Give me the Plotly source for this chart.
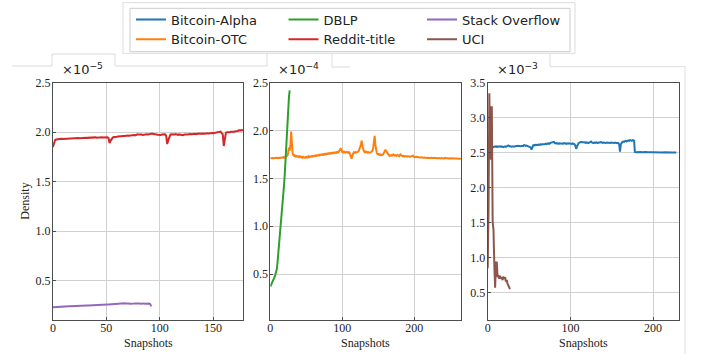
import plotly.graph_objects as go

W, H = 702, 354

# ---------------- data (density values, in units shown on each panel) ----------------
# Panel 1 (x 1e-5)
reddit_title = [
    1.85, 1.90, 1.92, 1.925, 1.928, 1.93, 1.927, 1.93, 1.932, 1.93,
    1.931, 1.933, 1.93, 1.935, 1.934, 1.936, 1.933, 1.937, 1.935, 1.938,
    1.936, 1.94, 1.938, 1.939, 1.941, 1.938, 1.94, 1.942, 1.94, 1.943,
    1.941, 1.944, 1.942, 1.943, 1.945, 1.942, 1.944, 1.946, 1.943, 1.945,
    1.947, 1.944, 1.946, 1.948, 1.945, 1.947, 1.949, 1.946, 1.948, 1.95,
    1.947, 1.949, 1.94, 1.89, 1.915, 1.935, 1.945, 1.952, 1.95, 1.955,
    1.953, 1.956, 1.958, 1.955, 1.96, 1.958, 1.962, 1.96, 1.963, 1.961,
    1.965, 1.963, 1.966, 1.968, 1.965, 1.97, 1.972, 1.968, 1.974, 1.978,
    1.975, 1.977, 1.973, 1.976, 1.971, 1.974, 1.972, 1.975, 1.978, 1.976,
    1.98, 1.978, 1.982, 1.985, 1.98, 1.976, 1.972, 1.975, 1.973, 1.97,
    1.974, 1.972, 1.975, 1.977, 1.973, 1.978, 1.965, 1.88, 1.92, 1.96,
    1.975, 1.978, 1.976, 1.974, 1.977, 1.98, 1.975, 1.972, 1.977, 1.974,
    1.97, 1.972, 1.968, 1.975, 1.973, 1.977, 1.975, 1.979, 1.976, 1.98,
    1.978, 1.982, 1.979, 1.983, 1.98, 1.984, 1.982, 1.985, 1.983, 1.986,
    1.984, 1.987, 1.985, 1.988, 1.986, 1.989, 1.987, 1.99, 1.988, 1.991,
    1.989, 1.992, 1.99, 1.993, 1.995, 1.998, 2.0, 2.005, 1.99, 1.98,
    1.86, 1.93, 1.995, 2.0, 1.998, 2.002, 2.0, 2.005, 2.003, 2.008,
    2.005, 2.01, 2.008, 2.012, 2.02, 2.015, 2.018, 2.022, 2.02,
]
stack_overflow = [
    0.230, 0.231, 0.231, 0.232, 0.232, 0.233, 0.233, 0.234, 0.234, 0.235,
    0.235, 0.236, 0.236, 0.237, 0.237, 0.238, 0.238, 0.239, 0.239, 0.240,
    0.240, 0.241, 0.241, 0.242, 0.242, 0.243, 0.243, 0.244, 0.245, 0.245,
    0.246, 0.246, 0.247, 0.247, 0.248, 0.249, 0.249, 0.250, 0.250, 0.251,
    0.252, 0.252, 0.253, 0.253, 0.254, 0.254, 0.255, 0.256, 0.256, 0.257,
    0.257, 0.258, 0.258, 0.259, 0.259, 0.260, 0.261, 0.262, 0.262, 0.263,
    0.264, 0.263, 0.265, 0.266, 0.265, 0.267, 0.268, 0.269, 0.266, 0.268,
    0.267, 0.266, 0.265, 0.267, 0.266, 0.264, 0.266, 0.267, 0.265, 0.266,
    0.264, 0.266, 0.265, 0.267, 0.266, 0.268, 0.265, 0.267, 0.266, 0.268,
    0.266, 0.262, 0.238,
]

# Panel 2 (x 1e-4)
bitcoin_otc = [
    1.71, 1.712, 1.708, 1.711, 1.714, 1.71, 1.713, 1.709, 1.712, 1.715,
    1.711, 1.714, 1.71, 1.716, 1.713, 1.718, 1.715, 1.72, 1.716, 1.722,
    1.718, 1.724, 1.72, 1.728, 1.74, 1.78, 1.82, 1.79, 1.85, 1.99,
    1.84, 1.76, 1.745, 1.735, 1.74, 1.73, 1.735, 1.728, 1.732, 1.725,
    1.73, 1.722, 1.728, 1.72, 1.726, 1.718, 1.724, 1.72, 1.715, 1.722,
    1.718, 1.725, 1.72, 1.73, 1.722, 1.728, 1.725, 1.732, 1.728, 1.735,
    1.73, 1.736, 1.733, 1.74, 1.735, 1.742, 1.738, 1.745, 1.74, 1.748,
    1.744, 1.75, 1.746, 1.752, 1.748, 1.755, 1.75, 1.757, 1.752, 1.76,
    1.756, 1.762, 1.758, 1.765, 1.76, 1.766, 1.762, 1.768, 1.764, 1.77,
    1.766, 1.772, 1.768, 1.775, 1.77, 1.778, 1.785, 1.80, 1.815, 1.79,
    1.775, 1.78, 1.772, 1.778, 1.774, 1.77, 1.776, 1.772, 1.768, 1.774,
    1.77, 1.75, 1.72, 1.705, 1.74, 1.765, 1.772, 1.768, 1.775, 1.77,
    1.772, 1.776, 1.78, 1.79, 1.805, 1.83, 1.86, 1.895, 1.84, 1.80,
    1.785, 1.775, 1.78, 1.772, 1.778, 1.77, 1.775, 1.768, 1.774, 1.77,
    1.775, 1.78, 1.79, 1.82, 1.88, 1.945, 1.85, 1.79, 1.765, 1.755,
    1.75, 1.755, 1.745, 1.75, 1.742, 1.748, 1.745, 1.752, 1.765, 1.78,
    1.80, 1.785, 1.77, 1.755, 1.745, 1.74, 1.735, 1.742, 1.738, 1.745,
    1.74, 1.75, 1.745, 1.738, 1.742, 1.735, 1.74, 1.745, 1.738, 1.732,
    1.745, 1.75, 1.74, 1.735, 1.73, 1.735, 1.728, 1.733, 1.73, 1.735,
    1.728, 1.732, 1.726, 1.73, 1.725, 1.73, 1.735, 1.742, 1.738, 1.728,
    1.725, 1.728, 1.722, 1.726, 1.72, 1.724, 1.72, 1.718, 1.722, 1.718,
    1.72, 1.716, 1.719, 1.715, 1.718, 1.714, 1.717, 1.713, 1.716, 1.714,
    1.715, 1.712, 1.716, 1.713, 1.715, 1.711, 1.714, 1.712, 1.715, 1.711,
    1.713, 1.71, 1.714, 1.711, 1.713, 1.71, 1.712, 1.709, 1.713, 1.71,
    1.712, 1.709, 1.711, 1.715, 1.71, 1.712, 1.709, 1.711, 1.708, 1.71,
    1.709, 1.711, 1.708, 1.71, 1.707, 1.709, 1.706, 1.708, 1.707, 1.709,
    1.706, 1.708, 1.705, 1.707, 1.706, 1.705,
]
dblp = [
    0.37, 0.385, 0.40, 0.415, 0.43, 0.45, 0.47, 0.495, 0.52, 0.55,
    0.62, 0.70, 0.78, 0.86, 0.95, 1.03, 1.12, 1.20, 1.30, 1.42,
    1.53, 1.68, 1.85, 2.02, 2.14, 2.26, 2.36, 2.42,
]

# Panel 3 (x 1e-3)
bitcoin_alpha = [
    2.55, 2.575, 2.585, 2.58, 2.59, 2.583, 2.588, 2.58, 2.586, 2.59,
    2.584, 2.589, 2.582, 2.587, 2.592, 2.585, 2.59, 2.583, 2.588, 2.58,
    2.586, 2.591, 2.584, 2.589, 2.595, 2.605, 2.595, 2.588, 2.592, 2.585,
    2.59, 2.586, 2.592, 2.588, 2.595, 2.59, 2.596, 2.6, 2.594, 2.598,
    2.592, 2.597, 2.6, 2.595, 2.61, 2.6, 2.596, 2.602, 2.598, 2.595,
    2.59, 2.585, 2.575, 2.545, 2.59, 2.605, 2.61, 2.605, 2.612, 2.608,
    2.615, 2.61, 2.618, 2.612, 2.62, 2.615, 2.622, 2.618, 2.625, 2.62,
    2.628, 2.622, 2.63, 2.625, 2.635, 2.628, 2.64, 2.645, 2.652, 2.66,
    2.655, 2.64, 2.632, 2.638, 2.63, 2.635, 2.628, 2.634, 2.63, 2.636,
    2.628, 2.635, 2.63, 2.638, 2.632, 2.626, 2.633, 2.628, 2.635, 2.63,
    2.636, 2.63, 2.625, 2.632, 2.628, 2.62, 2.6, 2.555, 2.59, 2.625,
    2.635, 2.645, 2.65, 2.655, 2.648, 2.652, 2.645, 2.65, 2.642, 2.648,
    2.64, 2.645, 2.638, 2.642, 2.65, 2.66, 2.648, 2.643, 2.638, 2.645,
    2.64, 2.648, 2.642, 2.638, 2.645, 2.64, 2.646, 2.652, 2.645, 2.64,
    2.646, 2.64, 2.645, 2.638, 2.644, 2.64, 2.635, 2.642, 2.638, 2.644,
    2.64, 2.646, 2.642, 2.638, 2.645, 2.64, 2.636, 2.642, 2.638, 2.62,
    2.515, 2.62, 2.65, 2.655, 2.66, 2.655, 2.665, 2.67, 2.66, 2.668,
    2.675, 2.67, 2.68, 2.675, 2.67, 2.678, 2.672, 2.68, 2.51, 2.508,
    2.51, 2.507, 2.509, 2.506, 2.508, 2.51, 2.507, 2.509, 2.508, 2.506,
    2.508, 2.507, 2.509, 2.506, 2.508, 2.507, 2.505, 2.508, 2.506, 2.507,
    2.506, 2.508, 2.505, 2.507, 2.506, 2.505, 2.507, 2.505, 2.506, 2.504,
    2.506, 2.505, 2.504, 2.506, 2.505, 2.503, 2.505, 2.504, 2.505, 2.503,
    2.504, 2.505, 2.503, 2.504, 2.502, 2.504, 2.503, 2.502, 2.503,
]
uci = [
    0.85, 1.70, 3.35, 2.40, 3.15, 3.15, 1.50, 1.40, 0.90, 0.57,
    0.93, 0.93, 0.72, 0.75, 0.70, 0.74, 0.70, 0.72, 0.68, 0.73,
    0.70, 0.72, 0.66, 0.68, 0.63, 0.60, 0.58, 0.55,
]

exponents = ["−5", "−4", "−3"]
x_ticks = [[0, 50, 100, 150], [0, 100, 200], [0, 100, 200]]
y_ticks = [[0.5, 1.0, 1.5, 2.0, 2.5], [0.5, 1.0, 1.5, 2.0, 2.5],
           [0.5, 1.0, 1.5, 2.0, 2.5, 3.0, 3.5]]
x_ranges = [[0, 178], [0, 265], [0, 231]]
y_ranges = [[0.1, 2.5], [0.02, 2.5], [0.11, 3.5]]

COLORS = {
    "Bitcoin-Alpha": "#1f77b4", "Bitcoin-OTC": "#ff7f0e", "DBLP": "#2ca02c",
    "Reddit-title": "#d62728", "Stack Overflow": "#9467bd", "UCI": "#8c564b",
}

series = [
    # name, values, panel, legend
    ("Bitcoin-Alpha", bitcoin_alpha, 3, "legend"),
    ("Bitcoin-OTC", bitcoin_otc, 2, "legend"),
    ("DBLP", dblp, 2, "legend2"),
    ("Reddit-title", reddit_title, 1, "legend2"),
    ("Stack Overflow", stack_overflow, 1, "legend3"),
    ("UCI", uci, 3, "legend3"),
]


def px(x):
    return x / W


def py(y):
    return 1 - y / H


fig = go.Figure()
for name, vals, panel, leg in series:
    sfx = "" if panel == 1 else str(panel)
    fig.add_trace(go.Scatter(
        x=list(range(len(vals))), y=vals, mode="lines", name=name,
        line=dict(color=COLORS[name], width=2),
        xaxis="x" + sfx, yaxis="y" + sfx, legend=leg,
    ))

SERIF = "Liberation Serif, Times New Roman, serif"
SANS = "DejaVu Sans, sans-serif"
AX_COL = "#4d4d4d"

x_dom = [(53, 243), (270.3, 461), (487.7, 678.7)]
y_dom = [py(320), py(82.7)]

layout = dict(
    width=W, height=H, margin=dict(l=0, r=0, t=0, b=0, autoexpand=False),
    paper_bgcolor="white", plot_bgcolor="white",
    showlegend=True,
)
for i in range(3):
    sfx = "" if i == 0 else str(i + 1)
    common = dict(
        showline=True, mirror=True, linecolor=AX_COL, linewidth=1,
        showgrid=True, gridcolor="#d0d0d0", gridwidth=1,
        ticks="inside", ticklen=3, tickcolor=AX_COL, tickwidth=1,
        tickfont=dict(family=SERIF, size=12, color="#222222"),
        zeroline=False, fixedrange=True, automargin=False,
    )
    layout["xaxis" + sfx] = dict(
        common, domain=[px(x_dom[i][0]), px(x_dom[i][1])], range=x_ranges[i],
        tickvals=x_ticks[i], anchor="y" + sfx, ticklabelstandoff=-3,
    )
    layout["yaxis" + sfx] = dict(
        common, domain=y_dom, range=y_ranges[i], tickvals=y_ticks[i],
        tickformat=".1f", anchor="x" + sfx, ticklabelstandoff=-1,
    )

leg_common = dict(
    orientation="v", xanchor="left", yanchor="top",
    bgcolor="rgba(0,0,0,0)", borderwidth=0,
    font=dict(family=SANS, size=13, color="#222222"),
    tracegroupgap=0, itemwidth=30,
)
layout["legend"] = dict(leg_common, x=px(131), y=py(4.5))
layout["legend2"] = dict(leg_common, x=px(283.5), y=py(4.5))
layout["legend3"] = dict(leg_common, x=px(422), y=py(4.5))

fig.update_layout(**layout)

# multiplier labels and axis titles
ann = []
mult_x = [59.5, 276, 494.5]
for i in range(3):
    ann.append(dict(
        text="×10<sup>" + exponents[i] + "</sup>", xref="paper", yref="paper",
        x=px(mult_x[i]), y=py(69), xanchor="left", yanchor="middle",
        showarrow=False, font=dict(family=SANS, size=13, color="#222222"),
    ))
    cx = (x_dom[i][0] + x_dom[i][1]) / 2
    ann.append(dict(
        text="Snapshots", xref="paper", yref="paper", x=px(cx), y=py(342.5),
        xanchor="center", yanchor="middle", showarrow=False,
        font=dict(family=SERIF, size=12, color="#222222"),
    ))
ann.append(dict(
    text="Density", xref="paper", yref="paper", x=px(25), y=py(201.7),
    xanchor="center", yanchor="middle", textangle=-90, showarrow=False,
    font=dict(family=SERIF, size=12, color="#222222"),
))
fig.update_layout(annotations=ann)

# background frame lines (faint) and legend box
segs = [
    [(12, 66), (52, 66), (52, 54), (115, 54), (115, 66), (267, 66), (267, 53)],
    [(332, 53), (332, 67), (350, 67)],
    [(550, 53), (550, 66.7), (685, 66.7), (685, 354)],
]
shapes = []
for s in segs:
    path = "M " + " L ".join(f"{px(a)},{py(b)}" for a, b in s)
    shapes.append(dict(type="path", path=path, xref="paper", yref="paper",
                       line=dict(color="#dcdcdc", width=1), layer="below"))
shapes.append(dict(type="rect", xref="paper", yref="paper",
                   x0=px(123), x1=px(575), y0=py(53.3), y1=py(2.7),
                   line=dict(color="#dcdcdc", width=1), layer="below"))
shapes.append(dict(type="rect", xref="paper", yref="paper",
                   x0=px(130), x1=px(570), y0=py(51.7), y1=py(8.3),
                   line=dict(color="#cccccc", width=1), layer="below"))
fig.update_layout(shapes=shapes)

fig.write_html(
    "out.html",
    config={"displayModeBar": False},
    post_script="document.body.style.margin='0';document.body.style.overflow='hidden';",
)
